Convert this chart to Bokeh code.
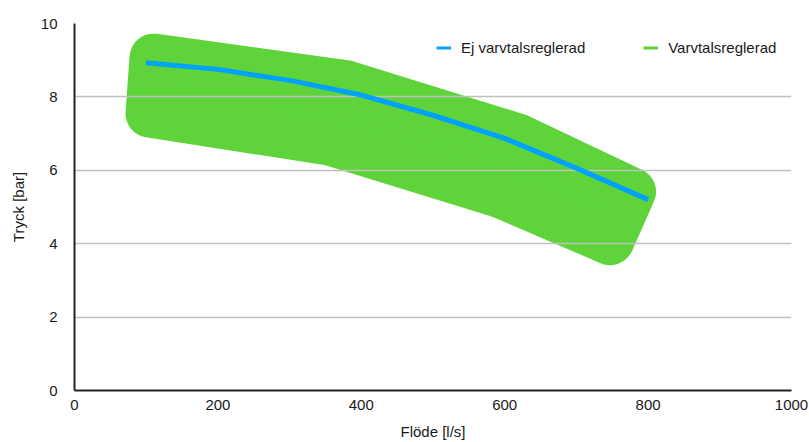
from bokeh.plotting import figure
from bokeh.models import Legend, LegendItem, FixedTicker, Range1d
from bokeh.embed import file_html
from bokeh.resources import INLINE

# Flow [l/s] and pressure [bar] for the fixed-speed pump
flow = [100, 200, 300, 400, 500, 600, 700, 800]
pressure_fixed = [8.93, 8.75, 8.45, 8.05, 7.5, 6.87, 6.06, 5.2]

# Operating band of the speed-controlled pump (core outline, upper edge then lower edge)
band_upper_flow = [110.2, 377.4, 619.1, 777.7]
band_upper_pressure = [9.07, 8.354, 6.888, 5.419]
band_lower_flow = [747.0, 595.0, 357.5, 104.6]
band_lower_pressure = [4.07, 5.343, 6.778, 7.547]

x_ticks = [0, 200, 400, 600, 800, 1000]
y_ticks = [0, 2, 4, 6, 8, 10]

series_names = ["Ej varvtalsreglerad", "Varvtalsreglerad"]

BLUE = "#00A2FF"
GREEN = "#5ED43A"
TEXT = "#1a1a1a"
FONT = "Liberation Sans"

p = figure(
    width=809, height=442,
    x_range=Range1d(0, 1000), y_range=Range1d(0, 10),
    output_backend="svg", toolbar_location=None,
    min_border_left=74, min_border_right=18,
    min_border_top=23, min_border_bottom=51,
)
p.outline_line_color = None
p.background_fill_color = "white"
p.border_fill_color = "white"

band_x = band_upper_flow + band_lower_flow
band_y = band_upper_pressure + band_lower_pressure

# thin strokes used as legend swatches; they sit under the wider marks
sw_band = p.line(band_x + band_x[:1], band_y + band_y[:1], line_color=GREEN,
                 line_width=3, level="image")
# speed-controlled band: thick round-joined stroke softens the corners
band = p.patch(band_x, band_y, fill_color=GREEN, line_color=GREEN,
               line_width=48, line_join="round", level="image")

sw_fixed = p.line(flow, pressure_fixed, line_color=BLUE, line_width=3)
fixed = p.line(flow, pressure_fixed, line_color=BLUE, line_width=5,
               line_join="round", line_cap="butt")

legend = Legend(
    items=[LegendItem(label=series_names[0], renderers=[sw_fixed]),
           LegendItem(label=series_names[1], renderers=[sw_band])],
    orientation="horizontal",
    location=(362, 334),
    glyph_width=15, glyph_height=17, label_height=17,
    label_standoff=10, spacing=58, padding=0, margin=0,
    border_line_color=None, background_fill_alpha=0,
    label_text_font=FONT, label_text_font_size="15px", label_text_color=TEXT,
)
p.add_layout(legend)

p.xgrid.grid_line_color = None
p.ygrid.grid_line_color = "#c0c0c0"
p.ygrid.grid_line_width = 1.5
p.ygrid.ticker = FixedTicker(ticks=y_ticks)

p.xaxis.ticker = FixedTicker(ticks=x_ticks)
p.yaxis.ticker = FixedTicker(ticks=y_ticks)
p.xaxis.axis_label = "Flöde [l/s]"
p.yaxis.axis_label = "Tryck [bar]"

for ax in (p.xaxis, p.yaxis):
    ax.axis_line_color = "#222222"
    ax.axis_line_width = 2
    ax.major_tick_line_color = None
    ax.minor_tick_line_color = None
    ax.major_tick_out = 0
    ax.major_tick_in = 0
    ax.major_label_text_font = FONT
    ax.major_label_text_font_size = "15px"
    ax.major_label_text_color = TEXT
    ax.axis_label_text_font = FONT
    ax.axis_label_text_font_size = "15px"
    ax.axis_label_text_font_style = "normal"
    ax.axis_label_text_color = TEXT

p.xaxis.major_label_standoff = 9
p.xaxis.axis_label_standoff = 10
p.yaxis.major_label_standoff = 17
p.yaxis.axis_label_standoff = 11

open("out.html", "w").write(file_html(p, INLINE))
